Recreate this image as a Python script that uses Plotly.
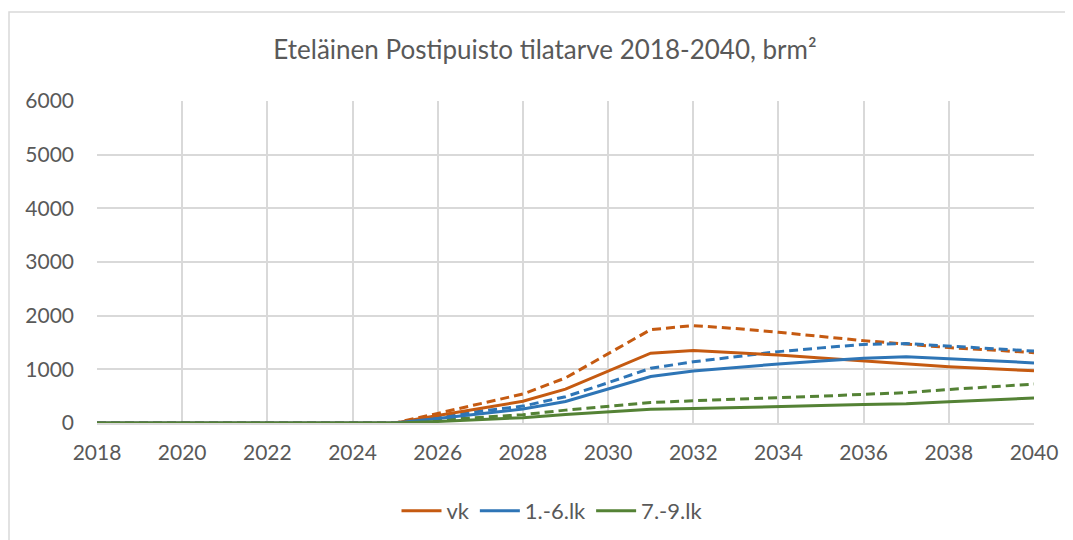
import plotly.graph_objects as go

years = list(range(2018, 2041))
z = [0] * 8  # 2018-2025

vk = z + [140, 270, 405, 630, 960, 1300, 1350, 1310, 1265, 1210, 1155, 1095, 1050, 1010, 975]
vk_alt = z + [180, 360, 540, 840, 1290, 1740, 1815, 1760, 1690, 1610, 1535, 1470, 1405, 1360, 1310]
lk16 = z + [85, 175, 260, 400, 630, 865, 970, 1040, 1100, 1155, 1205, 1235, 1195, 1160, 1120]
lk16_alt = z + [110, 220, 315, 490, 750, 1020, 1140, 1240, 1330, 1400, 1465, 1480, 1435, 1390, 1340]
lk79 = z + [30, 60, 100, 160, 210, 255, 270, 285, 305, 325, 345, 360, 395, 430, 465]
lk79_alt = z + [55, 110, 155, 240, 310, 380, 415, 440, 470, 500, 535, 565, 625, 675, 725]

names = ["vk", "1.-6.lk", "7.-9.lk"]
colors = ["#C55A11", "#2E75B6", "#548235"]
solid = [vk, lk16, lk79]
dashed = [vk_alt, lk16_alt, lk79_alt]

fig = go.Figure()
for n, c, d in zip(names, colors, dashed):
    fig.add_trace(go.Scatter(x=years, y=d, mode="lines", name=n + " (alt)",
                             line=dict(color=c, width=3, dash="9px,5px"),
                             showlegend=False))
for n, c, s in zip(names, colors, solid):
    fig.add_trace(go.Scatter(x=years, y=s, mode="lines", name=n,
                             line=dict(color=c, width=3)))

font = "Lato, 'Open Sans', sans-serif"
txt = "#595959"
grid = "#D9D9D9"

# page has an 8px body margin: figure occupies screen x 8..1073, y 8..540
W, H, OFF = 1065, 532, 8

fig.update_layout(
    width=W, height=H,
    margin=dict(l=97 - OFF, r=1073 - 1034, t=101 - OFF, b=540 - 423),
    paper_bgcolor="white", plot_bgcolor="white",
    font=dict(family=font, color=txt, size=21),
    title=dict(text="Eteläinen Postipuisto tilatarve 2018-2040, brm²",
               x=(545 - OFF) / W, xref="container", xanchor="center",
               y=1 - (50 - OFF) / H, yref="container", yanchor="middle",
               font=dict(size=26, color=txt, family=font)),
    showlegend=True,
    legend=dict(orientation="h", x=(552 - OFF) / W, xref="container", xanchor="center",
                y=1 - (511 - OFF) / H, yref="container", yanchor="middle",
                font=dict(size=22, color=txt), itemwidth=40,
                traceorder="normal", tracegroupgap=0),
    xaxis=dict(range=[2018, 2040], tick0=2018, dtick=2, showgrid=True,
               gridcolor=grid, gridwidth=1.5, zeroline=False,
               showline=True, linecolor=grid, linewidth=1.5, mirror=False,
               ticks="", ticklabelstandoff=10, tickfont=dict(size=21, color=txt)),
    yaxis=dict(range=[0, 6000], dtick=1000, showgrid=True, gridcolor=grid,
               gridwidth=1.5, zeroline=False, showline=False, ticks="",
               ticklabelstandoff=22, tickfont=dict(size=21, color=txt)),
    shapes=[dict(type="rect", xref="paper", yref="paper",
                 x0=(9 - 97) / 937, x1=(1090 - 97) / 937,
                 y0=(423 - 560) / 322, y1=(423 - 12) / 322,
                 line=dict(color=grid, width=1.5), layer="below")],
)

fig.write_html("out.html")
